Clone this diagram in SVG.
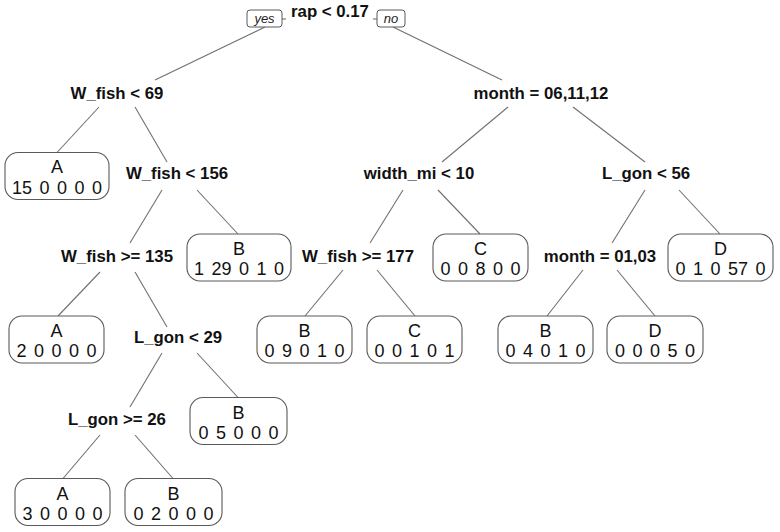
<svg xmlns="http://www.w3.org/2000/svg" width="780" height="532" viewBox="0 0 780 532">
<style>
.bg{fill:#fff}
.e{stroke:#707070;stroke-width:1.1;fill:none}
.leaf rect{fill:#fff;stroke:#5a5a5a;stroke-width:1.1}
.leaf text{font-family:"Liberation Sans",Arial,sans-serif;font-size:18px;fill:#111;text-anchor:middle}
.leaf .n{word-spacing:2.5px}
.split text{font-family:"Liberation Sans",Arial,sans-serif;font-size:16.8px;font-weight:bold;fill:#111;text-anchor:middle}
.yn rect{fill:#fff;stroke:#5a5a5a;stroke-width:1}
.yn text{font-family:"Liberation Sans",Arial,sans-serif;font-size:13px;font-style:italic;fill:#222;text-anchor:middle}
</style>
<rect class="bg" width="780" height="532"/>
<g id="connectors">
<line class="e" x1="265" y1="27" x2="155" y2="80"/>
<line class="e" x1="393" y1="27" x2="502" y2="80"/>
<line class="e" x1="282" y1="19" x2="286" y2="19"/>
<line class="e" x1="373" y1="19" x2="377" y2="19"/>
<line class="e" x1="99" y1="107" x2="57" y2="152.5"/>
<line class="e" x1="135" y1="107" x2="167" y2="162"/>
<line class="e" x1="508" y1="107" x2="442" y2="162"/>
<line class="e" x1="573" y1="107" x2="645" y2="162"/>
<line class="e" x1="162" y1="190" x2="130" y2="243"/>
<line class="e" x1="197" y1="190" x2="238" y2="234"/>
<line class="e" x1="403" y1="190" x2="370" y2="243"/>
<line class="e" x1="438" y1="190" x2="480" y2="234"/>
<line class="e" x1="645" y1="190" x2="612" y2="243"/>
<line class="e" x1="679" y1="190" x2="720" y2="234"/>
<line class="e" x1="100" y1="272" x2="58" y2="316"/>
<line class="e" x1="135" y1="272" x2="167" y2="327"/>
<line class="e" x1="343" y1="270" x2="305" y2="316"/>
<line class="e" x1="377" y1="270" x2="415" y2="316"/>
<line class="e" x1="583" y1="270" x2="547" y2="316"/>
<line class="e" x1="617" y1="270" x2="655" y2="316"/>
<line class="e" x1="162" y1="353" x2="130" y2="407"/>
<line class="e" x1="197" y1="353" x2="238" y2="397.5"/>
<line class="e" x1="100" y1="435" x2="63" y2="478.5"/>
<line class="e" x1="135" y1="435" x2="173" y2="478.5"/>
</g>
<g id="yes" class="yn"><rect x="247" y="10" width="35" height="17" rx="3"/><text x="264.5" y="23">yes</text></g>
<g id="no" class="yn"><rect x="377" y="10" width="28" height="17" rx="3"/><text x="391" y="23">no</text></g>
<g id="n1" class="split"><text x="330" y="17">rap &lt; 0.17</text></g>
<g id="n2" class="split"><text x="117" y="99">W_fish &lt; 69</text></g>
<g id="n3" class="split"><text x="541" y="99">month = 06,11,12</text></g>
<g id="n5" class="split"><text x="177" y="179">W_fish &lt; 156</text></g>
<g id="n6" class="split"><text x="419" y="179">width_mi &lt; 10</text></g>
<g id="n7" class="split"><text x="646" y="179">L_gon &lt; 56</text></g>
<g id="n10" class="split"><text x="117" y="262">W_fish &gt;= 135</text></g>
<g id="n12" class="split"><text x="358" y="262">W_fish &gt;= 177</text></g>
<g id="n14" class="split"><text x="600" y="262">month = 01,03</text></g>
<g id="n21" class="split"><text x="178" y="343">L_gon &lt; 29</text></g>
<g id="n42" class="split"><text x="117" y="425">L_gon &gt;= 26</text></g>
<g id="leaf1" class="leaf"><rect x="5" y="152.5" width="104" height="47" rx="13"/><text x="57" y="173">A</text><text class="n" x="57" y="194">15 0 0 0 0</text></g>
<g id="leaf2" class="leaf"><rect x="187" y="234" width="104" height="47" rx="13"/><text x="239" y="255">B</text><text class="n" x="239" y="275">1 29 0 1 0</text></g>
<g id="leaf3" class="leaf"><rect x="9" y="316" width="95" height="47" rx="13"/><text x="56.5" y="337">A</text><text class="n" x="56.5" y="357">2 0 0 0 0</text></g>
<g id="leaf4" class="leaf"><rect x="190" y="397.5" width="97" height="47" rx="13"/><text x="238.5" y="418.5">B</text><text class="n" x="238.5" y="438.5">0 5 0 0 0</text></g>
<g id="leaf5" class="leaf"><rect x="15" y="478.5" width="95" height="47" rx="13"/><text x="62.5" y="499.5">A</text><text class="n" x="62.5" y="519.5">3 0 0 0 0</text></g>
<g id="leaf6" class="leaf"><rect x="125" y="478.5" width="97" height="47" rx="13"/><text x="173.5" y="499.5">B</text><text class="n" x="173.5" y="519.5">0 2 0 0 0</text></g>
<g id="leaf7" class="leaf"><rect x="257" y="316" width="95" height="47" rx="13"/><text x="304.5" y="337">B</text><text class="n" x="304.5" y="357">0 9 0 1 0</text></g>
<g id="leaf8" class="leaf"><rect x="367" y="316" width="95" height="47" rx="13"/><text x="414.5" y="337">C</text><text class="n" x="414.5" y="357">0 0 1 0 1</text></g>
<g id="leaf9" class="leaf"><rect x="433" y="234" width="95" height="47" rx="13"/><text x="480.5" y="255">C</text><text class="n" x="480.5" y="275">0 0 8 0 0</text></g>
<g id="leaf10" class="leaf"><rect x="498" y="316" width="95" height="47" rx="13"/><text x="545.5" y="337">B</text><text class="n" x="545.5" y="357">0 4 0 1 0</text></g>
<g id="leaf11" class="leaf"><rect x="607" y="316" width="96" height="47" rx="13"/><text x="655" y="337">D</text><text class="n" x="655" y="357">0 0 0 5 0</text></g>
<g id="leaf12" class="leaf"><rect x="668" y="234" width="105" height="47" rx="13"/><text x="720.5" y="255">D</text><text class="n" x="720.5" y="275">0 1 0 57 0</text></g>
</svg>
